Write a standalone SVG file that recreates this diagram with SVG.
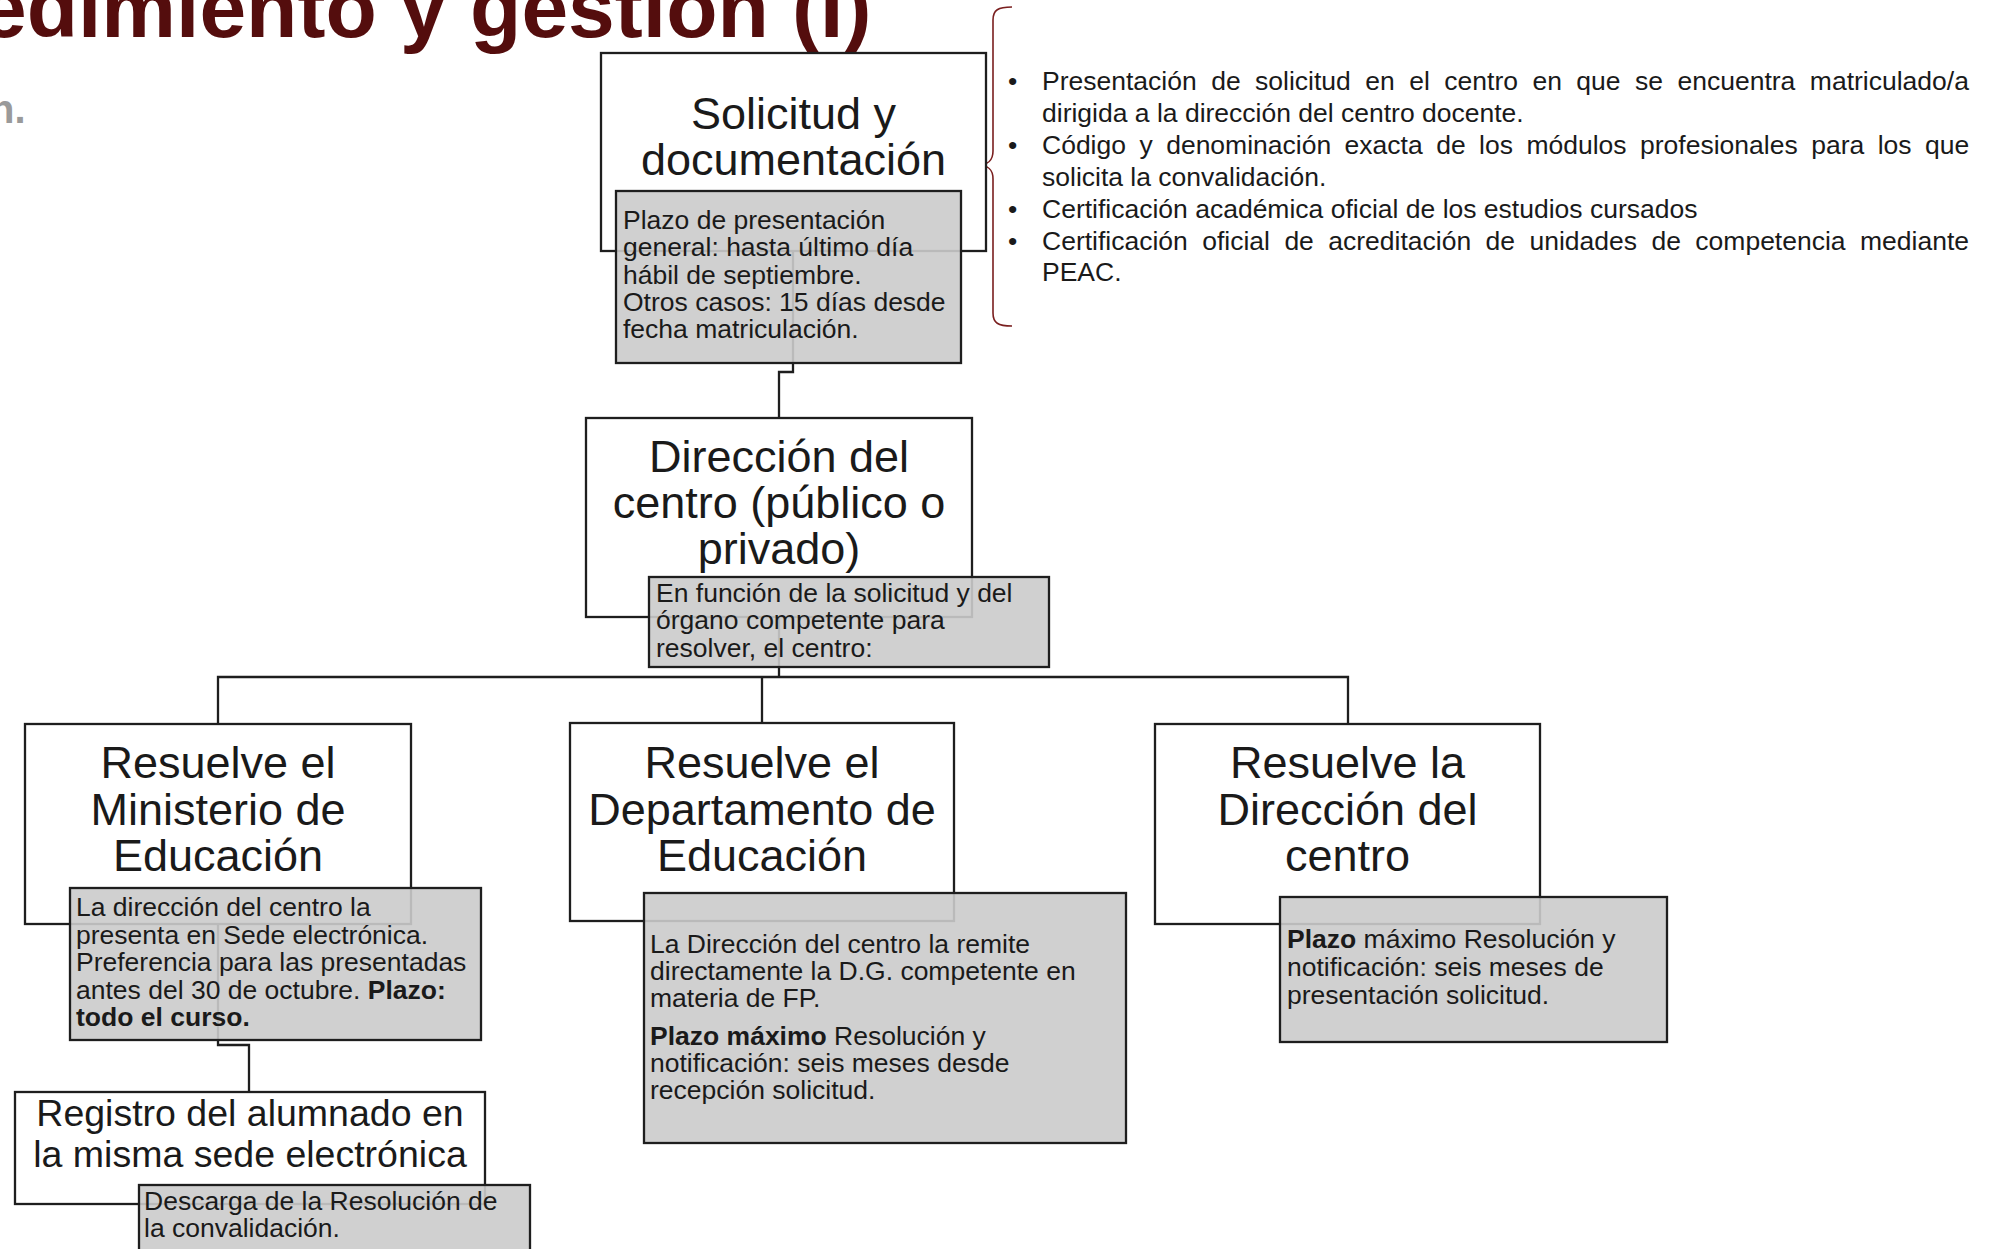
<svg xmlns="http://www.w3.org/2000/svg" width="2001" height="1249" viewBox="0 0 2001 1249">
<style>
.box{fill:#ffffff;stroke:#1e1e1e;stroke-width:2.3}
.note{fill:#cbcbcb;fill-opacity:0.9;stroke:#1e1e1e;stroke-width:2.3}
.conn{fill:none;stroke:#1e1e1e;stroke-width:2.3}
.t{font-family:"Liberation Sans",Arial,Helvetica,sans-serif;fill:#1a1a1a}
.h{font-size:45px;text-anchor:middle}
.h2{font-size:37.5px;text-anchor:middle}
.n{font-size:26.5px}
.b{font-weight:bold}
.brace{fill:none;stroke:#7a1f1f;stroke-width:1.6}
</style>
<rect x="0" y="0" width="2001" height="1249" fill="#ffffff"/>
<g id="title">
<text x="-20" y="37" font-family="Liberation Sans, Arial, sans-serif" font-weight="bold" font-size="84" fill="#540d0d">edimiento y gestión (I)</text>
<text x="-10" y="123" font-family="Liberation Sans, Arial, sans-serif" font-weight="bold" font-size="40" fill="#9a9a9a">n.</text>
</g>
<g id="connectors">
<path class="conn" d="M793,251 V372 H779 V418"/>
<path class="conn" d="M779,617 V677"/>
<path class="conn" d="M218,724 V677 H1348 V724"/>
<path class="conn" d="M762,677 V723"/>
<path class="conn" d="M218,924 V1045 H249 V1092"/>
</g>
<g id="brace">
<path class="brace" d="M1012,7 C998,7 993,10 993,20 L993,151 C993,161 988,165 977,165 C988,165 993,169 993,179 L993,313 C993,323 998,326 1012,326"/>
</g>
<g id="requirements" class="t n">
<text x="1008">
<tspan x="1008" y="90">•</tspan>
<tspan x="1008" y="153.8">•</tspan>
<tspan x="1008" y="217.6">•</tspan>
<tspan x="1008" y="249.5">•</tspan>
</text>
<text x="1042" y="90" word-spacing="7.1">Presentación de solicitud en el centro en que se encuentra matriculado/a</text>
<text x="1042" y="121.9">dirigida a la dirección del centro docente.</text>
<text x="1042" y="153.8" word-spacing="6.1">Código y denominación exacta de los módulos profesionales para los que</text>
<text x="1042" y="185.7">solicita la convalidación.</text>
<text x="1042" y="217.6">Certificación académica oficial de los estudios cursados</text>
<text x="1042" y="249.5" word-spacing="7.05">Certificación oficial de acreditación de unidades de competencia mediante</text>
<text x="1042" y="281.4">PEAC.</text>
</g>
<g id="node-solicitud">
<rect class="box" x="601" y="53" width="385" height="198"/>
<text class="t h" x="793.5" y="129">Solicitud y</text>
<text class="t h" x="793.5" y="175">documentación</text>
<rect class="note" x="616" y="191" width="345" height="172"/>
<text class="t n" x="623" y="229">Plazo de presentación</text>
<text class="t n" x="623" y="256.3">general: hasta último día</text>
<text class="t n" x="623" y="283.6">hábil de septiembre.</text>
<text class="t n" x="623" y="310.9">Otros casos: 15 días desde</text>
<text class="t n" x="623" y="338.2">fecha matriculación.</text>
</g>
<g id="node-direccion">
<rect class="box" x="586" y="418" width="386" height="199"/>
<text class="t h" x="779" y="471.7">Dirección del</text>
<text class="t h" x="779" y="518">centro (público o</text>
<text class="t h" x="779" y="564">privado)</text>
<rect class="note" x="649" y="577" width="400" height="90"/>
<text class="t n" x="656" y="601.5">En función de la solicitud y del</text>
<text class="t n" x="656" y="629">órgano competente para</text>
<text class="t n" x="656" y="656.5">resolver, el centro:</text>
</g>
<g id="node-ministerio">
<rect class="box" x="25" y="724" width="386" height="200"/>
<text class="t h" x="218" y="778">Resuelve el</text>
<text class="t h" x="218" y="824.5">Ministerio de</text>
<text class="t h" x="218" y="871">Educación</text>
<rect class="note" x="70" y="888" width="411" height="152"/>
<text class="t n" x="76" y="916">La dirección del centro la</text>
<text class="t n" x="76" y="943.6">presenta en Sede electrónica.</text>
<text class="t n" x="76" y="971.2">Preferencia para las presentadas</text>
<text class="t n" x="76" y="998.8">antes del 30 de octubre. <tspan class="b">Plazo:</tspan></text>
<text class="t n b" x="76" y="1026.4">todo el curso.</text>
</g>
<g id="node-departamento">
<rect class="box" x="570" y="723" width="384" height="198"/>
<text class="t h" x="762" y="778">Resuelve el</text>
<text class="t h" x="762" y="824.5">Departamento de</text>
<text class="t h" x="762" y="871">Educación</text>
<rect class="note" x="644" y="893" width="482" height="250"/>
<text class="t n" x="650" y="953">La Dirección del centro la remite</text>
<text class="t n" x="650" y="980">directamente la D.G. competente en</text>
<text class="t n" x="650" y="1007">materia de FP.</text>
<text class="t n" x="650" y="1045"><tspan class="b">Plazo máximo</tspan> Resolución y</text>
<text class="t n" x="650" y="1072">notificación: seis meses desde</text>
<text class="t n" x="650" y="1099">recepción solicitud.</text>
</g>
<g id="node-centro">
<rect class="box" x="1155" y="724" width="385" height="200"/>
<text class="t h" x="1347.5" y="778">Resuelve la</text>
<text class="t h" x="1347.5" y="824.5">Dirección del</text>
<text class="t h" x="1347.5" y="871">centro</text>
<rect class="note" x="1280" y="897" width="387" height="145"/>
<text class="t n" x="1287" y="948"><tspan class="b">Plazo</tspan> máximo Resolución y</text>
<text class="t n" x="1287" y="976">notificación: seis meses de</text>
<text class="t n" x="1287" y="1004">presentación solicitud.</text>
</g>
<g id="node-registro">
<rect class="box" x="15" y="1092" width="470" height="112"/>
<text class="t h2" x="250" y="1126">Registro del alumnado en</text>
<text class="t h2" x="250" y="1167">la misma sede electrónica</text>
<rect class="note" x="139" y="1185" width="391" height="80"/>
<text class="t n" x="144" y="1210">Descarga de la Resolución de</text>
<text class="t n" x="144" y="1237">la convalidación.</text>
</g>
</svg>
